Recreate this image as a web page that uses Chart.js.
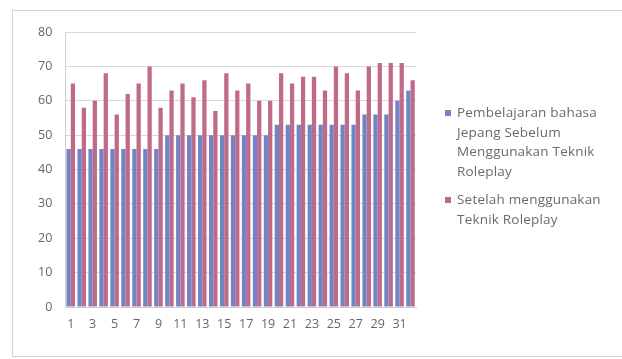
<!DOCTYPE html>
<html>
<head>
<meta charset="utf-8">
<script src="https://cdn.jsdelivr.net/npm/chart.js@4.4.1/dist/chart.umd.min.js"></script>
<style>
  html, body { margin: 0; padding: 0; background: #fff; }
  #wrap { position: relative; width: 622px; height: 359px; overflow: hidden; }
  #frame {
    position: absolute; left: 12px; top: 10px; width: 620px; height: 347px;
    border: 1px solid #d4d4d4; box-sizing: border-box;
  }
  #chart { position: absolute; left: 0; top: 0; }
  #legend {
    position: absolute; left: 444px; top: 103px; width: 178px;
    font-family: 'Open Sans', sans-serif; font-size: 13.5px; color: #6a6a6a;
    line-height: 19.6px; letter-spacing: 0.2px;
  }
  .item { position: relative; padding-left: 13px; margin-bottom: 9px; white-space: nowrap; }
  .swatch { position: absolute; left: 1px; top: 7px; width: 6px; height: 6px; }
</style>
</head>
<body>
<div id="wrap">
  <div id="frame"></div>
  <canvas id="chart" width="622" height="359"></canvas>
  <div id="legend"></div>
</div>
<script>
// Students 1..32, scores before and after the roleplay technique
const students = Array.from({ length: 32 }, (_, i) => String(i + 1));
const beforeScores = [46, 46, 46, 46, 46, 46, 46, 46, 46,
                      50, 50, 50, 50, 50, 50, 50, 50, 50, 50,
                      53, 53, 53, 53, 53, 53, 53, 53,
                      56, 56, 56, 60, 63];
const afterScores = [65, 58, 60, 68, 56, 62, 65, 70, 58, 63, 65, 61, 66, 57, 68, 63,
                     65, 60, 60, 68, 65, 67, 67, 63, 70, 68, 63, 70, 71, 71, 71, 66];
const yTicks = [0, 10, 20, 30, 40, 50, 60, 70, 80];

const beforeLabel = ['Pembelajaran bahasa', 'Jepang Sebelum', 'Menggunakan Teknik', 'Roleplay'];
const afterLabel = ['Setelah menggunakan', 'Teknik Roleplay'];

const blue = '#7384c4';
const red = '#c06a8a';

const chart = new Chart(document.getElementById('chart'), {
    type: 'bar',
    data: {
        labels: students,
        datasets: [
            { label: beforeLabel.join(' '), data: beforeScores, backgroundColor: blue,
              barPercentage: 1.0, categoryPercentage: 0.78 },
            { label: afterLabel.join(' '), data: afterScores, backgroundColor: red,
              barPercentage: 1.0, categoryPercentage: 0.78 }
        ]
    },
    options: {
        responsive: false,
        animation: false,
        layout: { padding: { left: 25, right: 206, top: 32, bottom: 17 } },
        plugins: {
            legend: { display: false },
            tooltip: { enabled: false }
        },
        scales: {
            x: {
                grid: { display: false, drawTicks: false },
                border: { color: '#d0d0d0' },
                ticks: {
                    autoSkip: false,
                    maxRotation: 0,
                    padding: 10,
                    color: '#666',
                    font: { family: 'Open Sans, sans-serif', size: 12.5 },
                    callback: (v, i) => (i % 2 === 0 ? students[i] : '')
                }
            },
            y: {
                min: yTicks[0],
                max: yTicks[yTicks.length - 1],
                afterBuildTicks: axis => { axis.ticks = yTicks.map(v => ({ value: v })); },
                grid: { color: '#d8d8d8', drawTicks: false },
                border: { color: '#d0d0d0' },
                ticks: {
                    padding: 13,
                    color: '#666',
                    font: { family: 'Open Sans, sans-serif', size: 12.5 }
                }
            }
        }
    }
});

// Legend drawn beside the plot, one block per series
const legend = document.getElementById('legend');
[[beforeLabel, blue], [afterLabel, red]].forEach(([lines, color]) => {
    const item = document.createElement('div');
    item.className = 'item';
    const sw = document.createElement('span');
    sw.className = 'swatch';
    sw.style.background = color;
    item.appendChild(sw);
    lines.forEach((line, i) => {
        if (i) item.appendChild(document.createElement('br'));
        item.appendChild(document.createTextNode(line));
    });
    legend.appendChild(item);
});
</script>
</body>
</html>
